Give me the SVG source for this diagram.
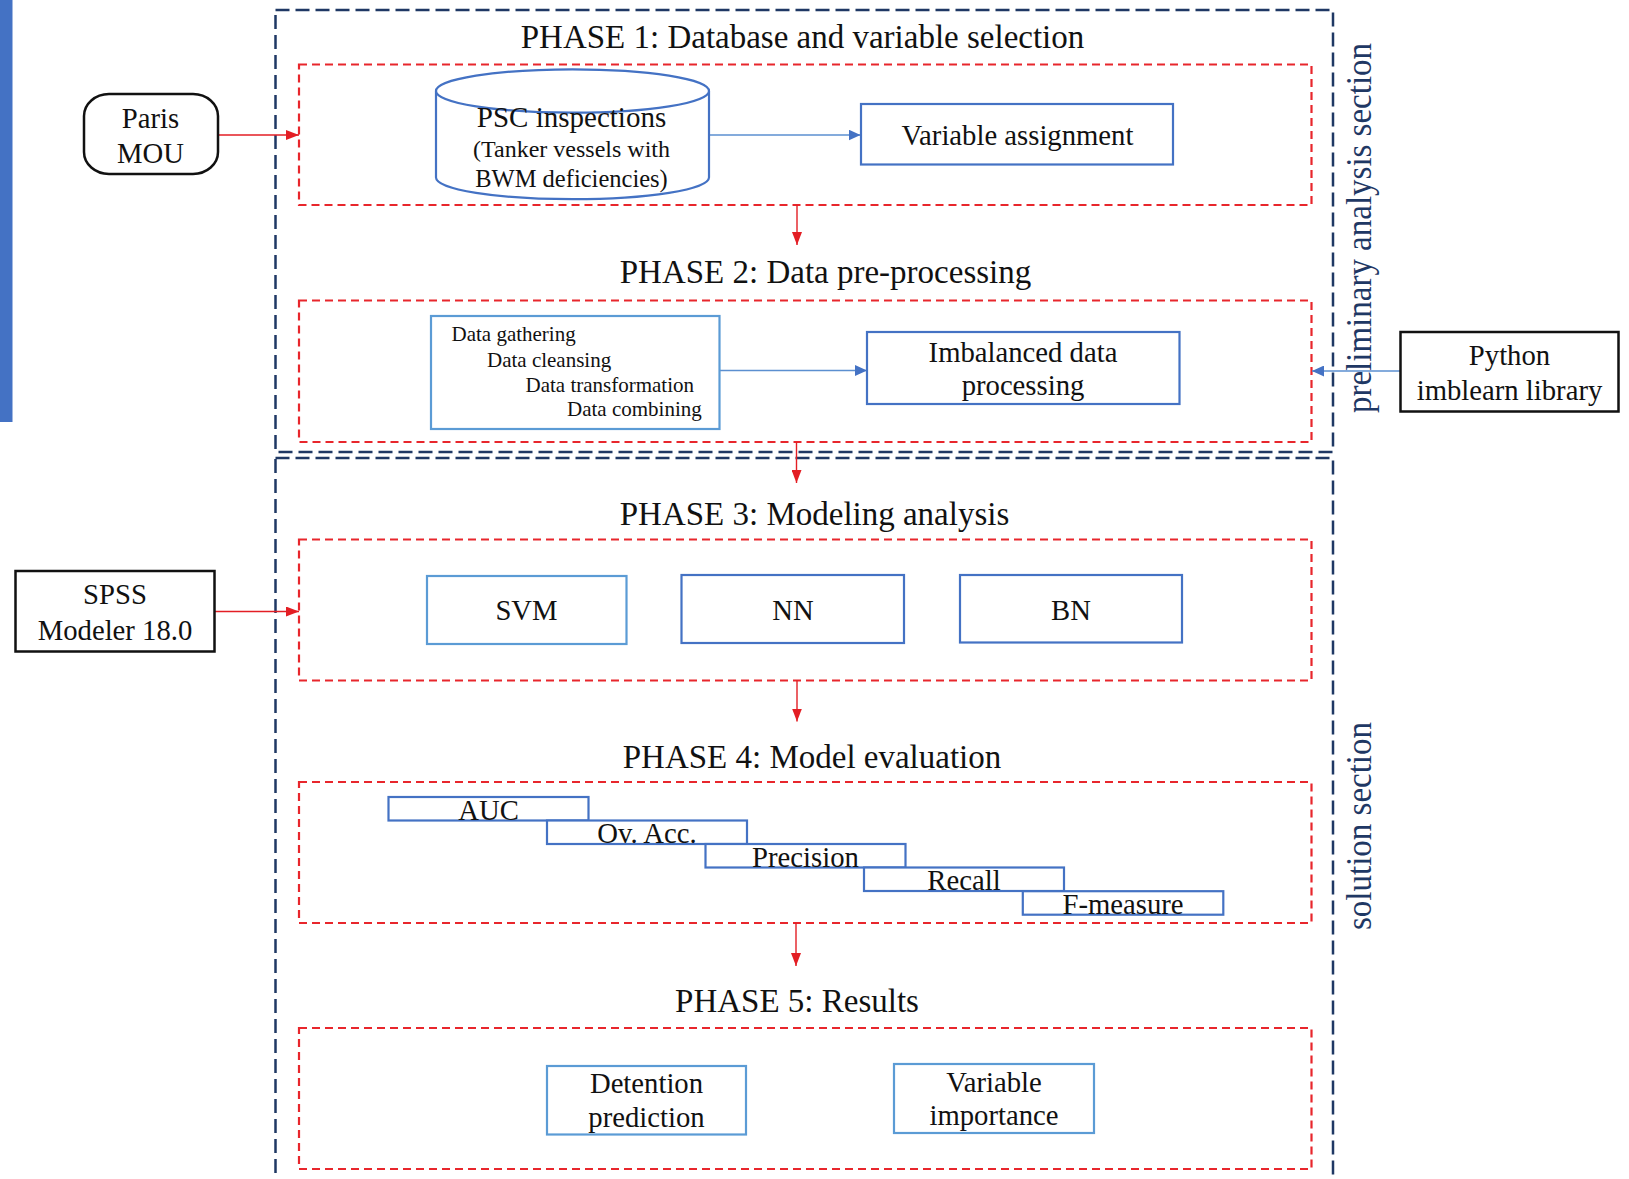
<svg xmlns="http://www.w3.org/2000/svg" width="1629" height="1179" viewBox="0 0 1629 1179">
<style>
  .t { font-family: "Liberation Serif", "Times New Roman", serif; fill: #111; }
  .title { font-size: 33px; text-anchor: middle; }
  .lbl { font-size: 28.7px; text-anchor: middle; }
  .small { font-size: 21px; }
  .side { font-family: "Liberation Serif", "Times New Roman", serif; fill: #1F3864; font-size: 33px; }
  .section { fill: none; stroke: #1F3864; stroke-width: 2.5; stroke-dasharray: 14 6; }
  .phase { fill: none; stroke: #E8262C; stroke-width: 2.2; stroke-dasharray: 8 5; }
  .bx { fill: #fff; stroke: #4472C4; stroke-width: 2.2; }
  .bxl { fill: #fff; stroke: #5B9BD5; stroke-width: 2.2; }
  .ext { fill: #fff; stroke: #111; stroke-width: 2.5; }
  .rl { stroke: #E31E24; stroke-width: 1.4; fill: none; }
  .bl { stroke: #5B8FD0; stroke-width: 1.4; fill: none; }
</style>
<defs>
  <marker id="ahr" markerWidth="13" markerHeight="10" refX="13" refY="5" orient="auto" markerUnits="userSpaceOnUse">
    <path d="M0,0 L13,5 L0,10 z" fill="#E31E24"/>
  </marker>
  <marker id="ahb" markerWidth="12" markerHeight="11" refX="12" refY="5.5" orient="auto" markerUnits="userSpaceOnUse">
    <path d="M0,0 L12,5.5 L0,11 z" fill="#4472C4"/>
  </marker>
</defs>

<rect x="0" y="0" width="12.5" height="422" fill="#4472C4"/>

<g id="sections">
  <rect class="section" x="275.5" y="10" width="1057.5" height="442"/>
  <rect class="section" x="275.5" y="458" width="1057.5" height="740"/>
  <text class="side" transform="translate(1371,413) rotate(-90) scale(1,1.08)">preliminary analysis section</text>
  <text class="side" transform="translate(1371,930) rotate(-90) scale(1,1.08)">solution section</text>
</g>

<g id="phase1">
  <rect class="phase" x="299" y="64.5" width="1012.5" height="140.5"/>
  <text class="t title" x="802.5" y="48.3">PHASE 1: Database and variable selection</text>
</g>
<g id="phase2">
  <rect class="phase" x="299" y="300.5" width="1012.5" height="141.5"/>
  <text class="t title" x="825.5" y="283">PHASE 2: Data pre-processing</text>
</g>
<g id="phase3">
  <rect class="phase" x="299" y="539.5" width="1012.5" height="141"/>
  <text class="t title" x="814.5" y="525">PHASE 3: Modeling analysis</text>
</g>
<g id="phase4">
  <rect class="phase" x="299" y="782" width="1012.5" height="141"/>
  <text class="t title" x="812" y="767.5">PHASE 4: Model evaluation</text>
</g>
<g id="phase5">
  <rect class="phase" x="299" y="1028" width="1012.5" height="141"/>
  <text class="t title" x="797" y="1012">PHASE 5: Results</text>
</g>

<g id="connectors">
  <line class="rl" x1="218" y1="135" x2="299" y2="135" marker-end="url(#ahr)"/>
  <line class="rl" x1="214.5" y1="611.5" x2="299" y2="611.5" marker-end="url(#ahr)"/>
  <line class="bl" x1="1400.5" y1="371" x2="1312" y2="371" marker-end="url(#ahb)"/>
  <line class="bl" x1="709" y1="135" x2="860.5" y2="135" marker-end="url(#ahb)"/>
  <line class="bl" x1="719.5" y1="370.5" x2="867" y2="370.5" marker-end="url(#ahb)"/>
  <line class="rl" x1="797" y1="205" x2="797" y2="245" marker-end="url(#ahr)"/>
  <line class="rl" x1="796.5" y1="442" x2="796.5" y2="483" marker-end="url(#ahr)"/>
  <line class="rl" x1="797" y1="680.5" x2="797" y2="721.5" marker-end="url(#ahr)"/>
  <line class="rl" x1="796" y1="923" x2="796" y2="966" marker-end="url(#ahr)"/>
</g>

<g id="paris-mou">
  <rect class="ext" x="84" y="94" width="134" height="80" rx="25" ry="22"/>
  <text class="t lbl" x="150.5" y="128">Paris</text>
  <text class="t lbl" x="150.5" y="162.5">MOU</text>
</g>

<g id="spss">
  <rect class="ext" x="15.5" y="571" width="199" height="80.5"/>
  <text class="t lbl" x="115" y="604">SPSS</text>
  <text class="t lbl" x="115" y="639.5">Modeler 18.0</text>
</g>

<g id="python">
  <rect class="ext" x="1400.5" y="332" width="218" height="79.5"/>
  <text class="t lbl" x="1509.5" y="365">Python</text>
  <text class="t lbl" x="1509.5" y="400">imblearn library</text>
</g>

<g id="psc-inspections">
  <path d="M436,91 L436,177.5 A136.5,21.7 0 0 0 709,177.5 L709,91" fill="#fff" stroke="#4472C4" stroke-width="2.2"/>
  <ellipse cx="572.5" cy="91" rx="136.5" ry="21.7" fill="#fff" stroke="#4472C4" stroke-width="2.2"/>
  <text class="t" x="571.5" y="126.5" font-size="29" text-anchor="middle">PSC inspections</text>
  <text class="t" x="571.5" y="156.5" font-size="24" text-anchor="middle">(Tanker vessels with</text>
  <text class="t" x="571.5" y="186.5" font-size="24.5" text-anchor="middle">BWM deficiencies)</text>
</g>

<g id="variable-assignment">
  <rect class="bx" x="861" y="104" width="312" height="60.5"/>
  <text class="t lbl" x="1017.5" y="145">Variable assignment</text>
</g>

<g id="data-steps">
  <rect class="bxl" x="431" y="316" width="288.5" height="113"/>
  <text class="t small" x="451.5" y="340.5">Data gathering</text>
  <text class="t small" x="487" y="366.5">Data cleansing</text>
  <text class="t small" x="525.5" y="391.5">Data transformation</text>
  <text class="t small" x="567" y="415.5">Data combining</text>
</g>

<g id="imbalanced">
  <rect class="bx" x="867" y="332" width="312.5" height="72"/>
  <text class="t lbl" x="1023" y="361.5">Imbalanced data</text>
  <text class="t lbl" x="1023" y="395">processing</text>
</g>

<g id="svm">
  <rect class="bxl" x="427" y="576" width="199.5" height="68"/>
  <text class="t lbl" x="526.5" y="620">SVM</text>
</g>
<g id="nn">
  <rect class="bx" x="681.5" y="575" width="222.5" height="68"/>
  <text class="t lbl" x="793" y="620">NN</text>
</g>
<g id="bn">
  <rect class="bx" x="960" y="575" width="222" height="67.5"/>
  <text class="t lbl" x="1071" y="620">BN</text>
</g>

<g id="auc">
  <rect class="bx" x="388.5" y="797" width="200" height="23.5"/>
  <text class="t lbl" x="488.5" y="819.5" font-size="28">AUC</text>
</g>
<g id="ov-acc">
  <rect class="bx" x="547" y="820.5" width="200" height="23.5"/>
  <text class="t lbl" x="647" y="843">Ov. Acc.</text>
</g>
<g id="precision">
  <rect class="bx" x="705.5" y="844" width="200" height="23.5"/>
  <text class="t lbl" x="805.5" y="866.5">Precision</text>
</g>
<g id="recall">
  <rect class="bx" x="864" y="867.5" width="200" height="23.5"/>
  <text class="t lbl" x="964" y="890">Recall</text>
</g>
<g id="f-measure">
  <rect class="bx" x="1022.8" y="891.2" width="200.5" height="23.5"/>
  <text class="t lbl" x="1123" y="913.8">F-measure</text>
</g>

<g id="detention-prediction">
  <rect class="bxl" x="547" y="1066" width="199" height="68.5"/>
  <text class="t lbl" x="646.5" y="1093">Detention</text>
  <text class="t lbl" x="646.5" y="1126.5">prediction</text>
</g>
<g id="variable-importance">
  <rect class="bxl" x="894" y="1064" width="200" height="69"/>
  <text class="t lbl" x="994" y="1092">Variable</text>
  <text class="t lbl" x="994" y="1125">importance</text>
</g>
</svg>
